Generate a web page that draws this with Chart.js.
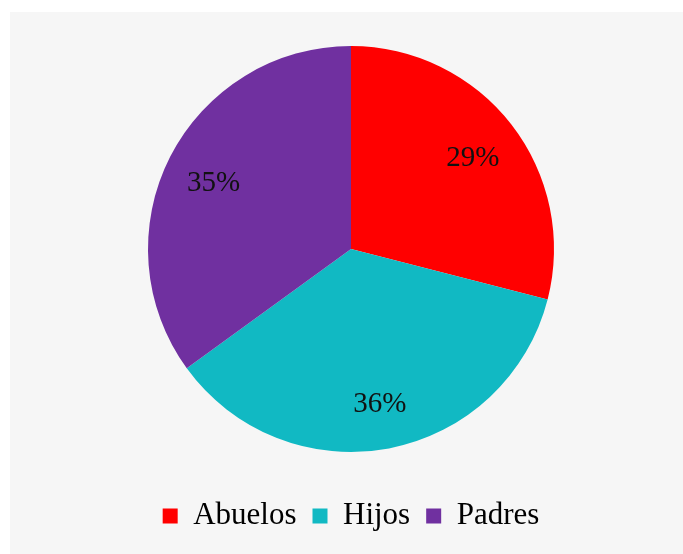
<!DOCTYPE html>
<html>
<head>
<meta charset="utf-8">
<script src="https://cdn.jsdelivr.net/npm/chart.js@4"></script>
<style>
  html, body { margin: 0; padding: 0; background: #ffffff; }
  #panel {
    position: absolute;
    left: 10px;
    top: 12px;
    width: 673px;
    height: 542px;
    background: #f6f6f6;
  }
</style>
</head>
<body>
<div id="panel"><canvas id="pieChart"></canvas></div>
<script>
const grupos = ['Abuelos', 'Hijos', 'Padres'];
const porcentajes = [29, 36, 35];
const colores = ['#ff0000', '#11b9c3', '#7030a0'];

const serif = "'Liberation Serif', 'DejaVu Serif', serif";

// porcentaje escrito dentro de cada sector
const etiquetas = {
  id: 'etiquetas',
  afterDatasetsDraw(chart) {
    const c = chart.ctx;
    const meta = chart.getDatasetMeta(0);
    c.save();
    c.font = '29px ' + serif;
    c.fillStyle = '#111111';
    c.textAlign = 'center';
    c.textBaseline = 'middle';
    meta.data.forEach((arc, i) => {
      const p = arc.getProps(['x', 'y', 'startAngle', 'endAngle', 'outerRadius'], true);
      const mid = (p.startAngle + p.endAngle) / 2;
      const r = p.outerRadius * 0.76;
      c.fillText(porcentajes[i] + '%', p.x + Math.cos(mid) * r, p.y + Math.sin(mid) * r + 4);
    });
    c.restore();
  }
};

const ctx = document.getElementById('pieChart').getContext('2d');

new Chart(ctx, {
  type: 'pie',
  data: {
    labels: grupos,
    datasets: [{
      data: porcentajes,
      backgroundColor: colores,
      borderWidth: 0
    }]
  },
  options: {
    responsive: true,
    maintainAspectRatio: false,
    animation: false,
    layout: {
      padding: { top: 34, bottom: 12.5, left: 9, right: 0 }
    },
    plugins: {
      tooltip: { enabled: false },
      legend: {
        position: 'bottom',
        title: {
          display: true,
          text: '',
          font: { size: 10, lineHeight: 1 },
          padding: { top: 22.5, bottom: 0 }
        },
        labels: {
          boxWidth: 15,
          boxHeight: 15,
          padding: 16,
          color: '#000000',
          font: { family: serif, size: 31 }
        }
      }
    }
  },
  plugins: [etiquetas]
});
</script>
</body>
</html>
